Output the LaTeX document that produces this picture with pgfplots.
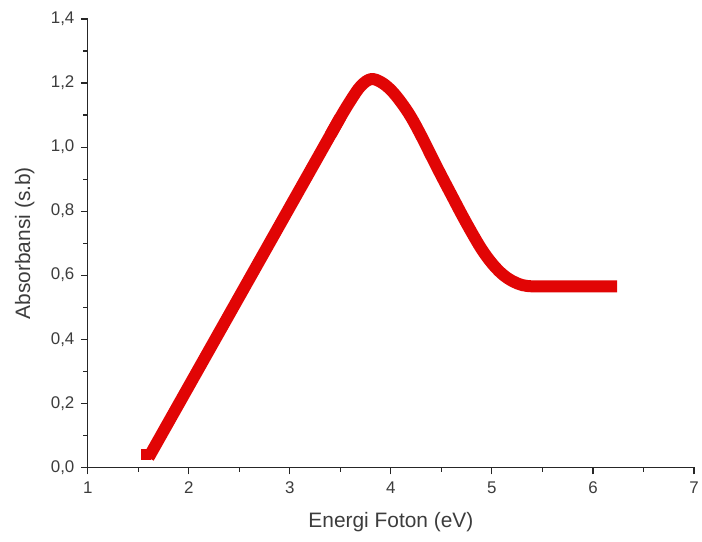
\documentclass[border=0pt]{standalone}
\usepackage{pgfplots}
\pgfplotsset{compat=1.18}
\usepackage{fontspec}
\setmainfont{Liberation Sans}
\definecolor{curvered}{RGB}{225,5,5}
\definecolor{txt}{RGB}{60,60,60}
\begin{document}
\begin{tikzpicture}
\begin{axis}[
  at={(0,0)}, anchor=south west,
  scale only axis,
  width=607bp, height=449bp,
  xmin=1, xmax=7, ymin=0, ymax=1.4,
  axis lines*=left,
  axis line style={line width=1.2bp, color=black!85},
  tick align=outside,
  major tick length=7bp, minor tick length=4.5bp,
  every tick/.style={line width=1.1bp, black!85},
  xtick={1,2,3,4,5,6,7},
  ytick={0,0.2,0.4,0.6,0.8,1.0,1.2,1.4},
  minor xtick={1.5,2.5,3.5,4.5,5.5,6.5},
  minor ytick={0.1,0.3,0.5,0.7,0.9,1.1,1.3},
  /pgf/number format/assume math mode=true,
  yticklabel style={/pgf/number format/fixed, /pgf/number format/fixed zerofill, /pgf/number format/precision=1, /pgf/number format/use comma, xshift=-3bp},
  xticklabel style={/pgf/number format/fixed, /pgf/number format/precision=0, yshift=-4bp},
  tick label style={font=\fontsize{17}{20}\selectfont, color=txt},
  label style={font=\fontsize{21}{24}\selectfont, color=txt},
  xlabel={Energi Foton (eV)},
  ylabel={Absorbansi (s.b)},
  xlabel style={at={(axis description cs:0.5,-0.123)}, anchor=center},
  ylabel style={at={(axis description cs:-0.104,0.5)}, anchor=center},
  clip=false,
]
\addplot[curvered, line width=12bp, line join=round] coordinates {
(1.53,0.040) (1.62,0.040)
};
\addplot[curvered, line width=12bp, line join=round] coordinates {
(1.60,0.030) (3.50,1.093)
};
\addplot[curvered, line width=12bp, line join=round, smooth, tension=0.6] coordinates {
(3.40,1.037) (3.50,1.093) (3.6,1.145) (3.7,1.19) (3.8,1.212) (3.9,1.203) (4.0,1.178)
(4.1,1.140) (4.2,1.093) (4.3,1.035) (4.4,0.972) (4.5,0.91) (4.6,0.85)
(4.7,0.79) (4.8,0.733) (4.9,0.68) (5.0,0.637) (5.1,0.604) (5.2,0.582)
(5.3,0.569) (5.4,0.565) (5.5,0.565) (6.0,0.565) (6.24,0.565)
};
\end{axis}
\path (-88bp,-74bp) rectangle (614bp,468bp);
\end{tikzpicture}
\end{document}
